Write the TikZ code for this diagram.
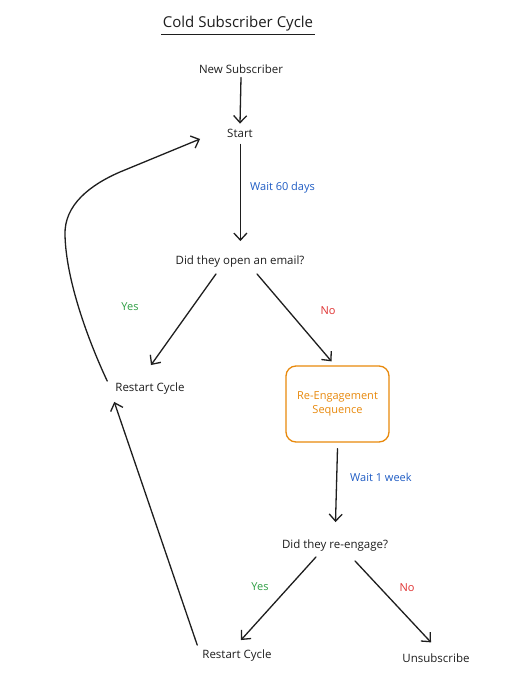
\documentclass[tikz,border=0pt]{standalone}
\usepackage{fontspec}
\setmainfont{Open Sans}
\usetikzlibrary{arrows.meta,calc}
\definecolor{ink}{HTML}{1E1E1E}
\definecolor{cblue}{HTML}{1F5CC4}
\definecolor{cgreen}{HTML}{2F9E44}
\definecolor{cred}{HTML}{E03131}
\definecolor{corange}{HTML}{E8890C}
\begin{document}
\begin{tikzpicture}[x=1pt,y=-1pt,
  txt/.style={font=\fontsize{11.5}{13}\selectfont, text=ink, inner sep=2pt},
  lbl/.style={font=\fontsize{11}{13}\selectfont, inner sep=2pt},
  arr/.style={draw=ink, line width=1.3pt, line cap=round,
    -{Straight Barb[length=7pt,width=13pt,line width=1.3pt]}}]
\useasboundingbox[fill=white] (0,0) rectangle (506,680);
% title
\node[font=\fontsize{15}{17}\selectfont, text=ink, inner sep=1.5pt] (title) at (238,24) {Cold Subscriber Cycle};
\draw[ink, line width=1.2pt] ([yshift=-1pt]title.south west) -- ([yshift=-1pt]title.south east);
% nodes
\node[txt] (new) at (241,69) {New Subscriber};
\node[txt] (start) at (240,133) {Start};
\node[txt] (q1) at (240,262) {Did they open an email?};
\node[txt] (r1) at (150,389) {Restart Cycle};
\node[draw=corange, rounded corners=10pt, line width=1.3pt, minimum width=103pt,
      minimum height=76pt, align=center, text=corange,
      font=\fontsize{11}{14}\selectfont] (seq) at (337.5,404) {Re-Engagement\\Sequence};
\node[txt] (q2) at (335,546) {Did they re-engage?};
\node[txt] (r2) at (237,656) {Restart Cycle};
\node[txt] (unsub) at (436,658) {Unsubscribe};
% labels
\node[lbl, text=cblue, anchor=west] (w1) at (248,188) {Wait 60 days};
\node[lbl, text=cgreen] (y1) at (130,307) {Yes};
\node[lbl, text=cred] (n1) at (328,311) {No};
\node[lbl, text=cblue, anchor=west] (w2) at (348,477) {Wait 1 week};
\node[lbl, text=cgreen] (y2) at (260,587) {Yes};
\node[lbl, text=cred] (n2) at (407,588) {No};
% connectors
\draw[arr] ([yshift=-2pt]new.south) -- ([yshift=3pt]start.north);
\draw[arr] ([xshift=0.4pt,yshift=-5pt]start.south) -- ([xshift=0.4pt,yshift=13pt]q1.north);
\draw[arr] ([xshift=-24pt,yshift=-4pt]q1.south) -- ([xshift=1pt,yshift=16pt]r1.north);
\draw[arr] ([xshift=17pt,yshift=-4pt]q1.south) -- ([xshift=-6pt,yshift=4pt]seq.north);
\draw[arr] ([yshift=-6pt]seq.south) -- ([xshift=0.5pt,yshift=16pt]q2.north);
\draw[arr] ([xshift=-19pt,yshift=-3pt]q2.south) -- ([xshift=4pt,yshift=8pt]r2.north);
\draw[arr] ([xshift=20pt,yshift=-7pt]q2.south) -- ([xshift=-5pt,yshift=9pt]unsub.north);
\draw[arr] ([xshift=-3pt,yshift=3pt]r2.north west) -- ([xshift=1pt,yshift=-5pt]r1.south west);
\draw[arr] ([xshift=-6pt,yshift=0pt]r1.north west) .. controls (88,340) and (66,280) .. (65,235)
   .. controls (64,205) and (90,185) .. (120,172) -- ([xshift=-25pt,yshift=-6pt]start.west);
\end{tikzpicture}
\end{document}
